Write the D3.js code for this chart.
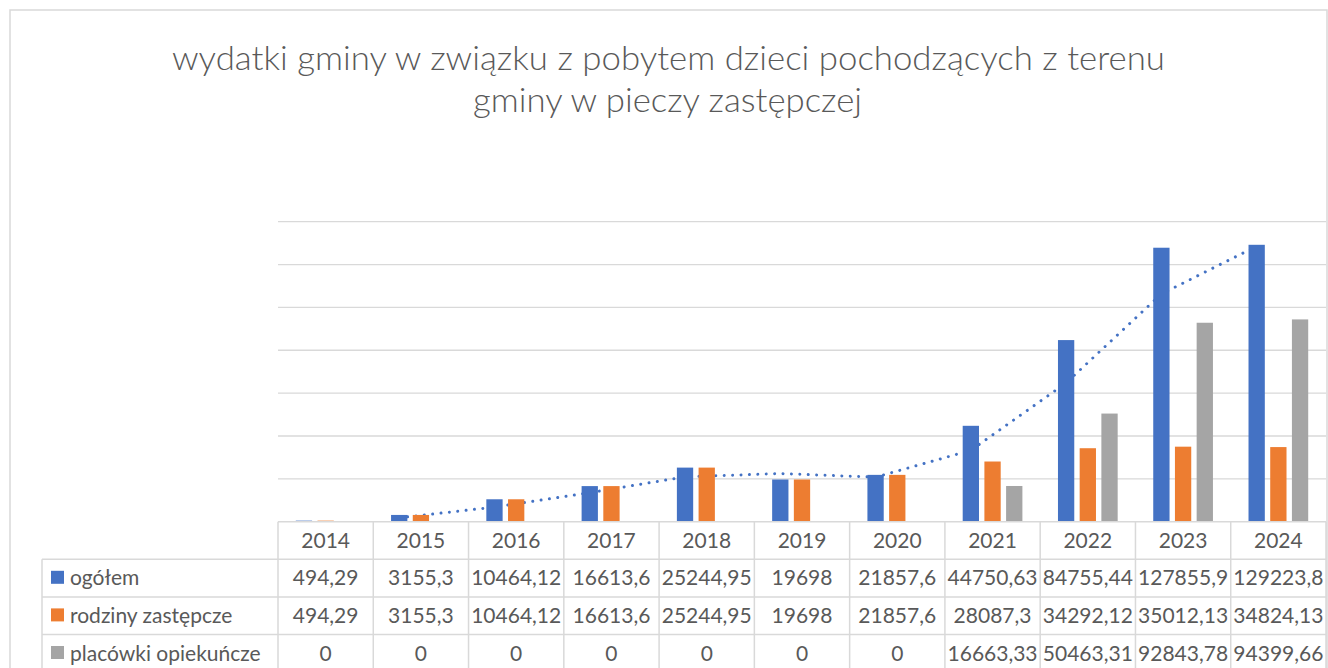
<!DOCTYPE html>
<html>
<head>
  <meta charset="utf-8">
  <title>wydatki gminy - piecza zastępcza</title>
  <style>
    body { margin: 0; background: #fff; }
    text { font-family: Lato, "Open Sans", sans-serif; fill: #595959; }
  </style>
</head>
<body>
  <script src="https://d3js.org/d3.v7.min.js"></script>
  <script>
    var years = [2014, 2015, 2016, 2017, 2018, 2019, 2020, 2021, 2022, 2023, 2024];
    var seriesNames = ['ogółem', 'rodziny zastępcze', 'placówki opiekuńcze'];
    var ogolem = [494.29, 3155.3, 10464.12, 16613.6, 25244.95, 19698, 21857.6, 44750.63, 84755.44, 127855.9, 129223.8];
    var rodziny = [494.29, 3155.3, 10464.12, 16613.6, 25244.95, 19698, 21857.6, 28087.3, 34292.12, 35012.13, 34824.13];
    var placowki = [0, 0, 0, 0, 0, 0, 0, 16663.33, 50463.31, 92843.78, 94399.66];
    var gridTicks = [20000, 40000, 60000, 80000, 100000, 120000, 140000];
    var colors = ['#4472c4', '#ed7d31', '#a5a5a5'];

    var values = [ogolem, rodziny, placowki];
    var W = 1328, H = 668;
    var plotL = 278, plotR = 1326, plotT = 221.7, plotB = 521.7;
    var tableL = 42, rowH = 37.6;
    var fs = 21;

    var svg = d3.select('body').append('svg').attr('width', W).attr('height', H);

    // chart frame
    svg.append('rect').attr('x', 10).attr('y', 10).attr('width', 1317).attr('height', 700)
      .attr('fill', 'none').attr('stroke', '#d9d9d9').attr('stroke-width', 1.5);

    // title
    var title = svg.append('g').attr('class', 'title');
    title.append('text').attr('x', 668.5).attr('y', 70).attr('text-anchor', 'middle')
      .attr('font-size', 34).attr('font-weight', 300)
      .attr('textLength', 993).attr('lengthAdjust', 'spacingAndGlyphs')
      .text('wydatki gminy w związku z pobytem dzieci pochodzących z terenu');
    title.append('text').attr('x', 667.5).attr('y', 112).attr('text-anchor', 'middle')
      .attr('font-size', 34).attr('font-weight', 300)
      .attr('textLength', 389).attr('lengthAdjust', 'spacingAndGlyphs')
      .text('gminy w pieczy zastępczej');

    var x = d3.scaleBand().domain(years).range([plotL, plotR]).padding(0);
    var groupW = 59.7;
    var xs = d3.scaleBand().domain(d3.range(3)).range([-groupW / 2, groupW / 2]).paddingInner(0.249).paddingOuter(0);
    var y = d3.scaleLinear().domain([0, 140000]).range([plotB, plotT]);

    // gridlines
    svg.append('g').selectAll('line').data(gridTicks).enter().append('line')
      .attr('x1', plotL).attr('x2', plotR)
      .attr('y1', function(d) { return y(d); }).attr('y2', function(d) { return y(d); })
      .attr('stroke', '#d9d9d9').attr('stroke-width', 1.3);

    // moving average trendline (period 2) of "ogółem", drawn behind bars
    var trend = [];
    for (var i = 1; i < years.length; i++) {
      trend.push({ year: years[i], v: (ogolem[i - 1] + ogolem[i]) / 2 });
    }
    var line = d3.line()
      .x(function(d) { return x(d.year) + x.bandwidth() / 2 + xs(0) + xs.bandwidth() / 2; })
      .y(function(d) { return y(d.v); });
    svg.append('path').datum(trend).attr('d', line)
      .attr('fill', 'none').attr('stroke', '#4472c4').attr('stroke-width', 3)
      .attr('stroke-linecap', 'round').attr('stroke-dasharray', '0.01 8.4');

    // bars
    values.forEach(function(vals, s) {
      svg.append('g').selectAll('rect').data(vals).enter().append('rect')
        .attr('x', function(d, i) { return x(years[i]) + x.bandwidth() / 2 + xs(s); })
        .attr('width', xs.bandwidth())
        .attr('y', function(d) { return y(d); })
        .attr('height', function(d) { return plotB - y(d); })
        .attr('fill', colors[s]);
    });

    // data table
    var tbl = svg.append('g').attr('class', 'table');
    var lineCol = '#d9d9d9';
    var rowsY = [plotB, plotB + rowH, plotB + 2 * rowH, plotB + 3 * rowH, plotB + 4 * rowH];
    rowsY.forEach(function(ry, k) {
      tbl.append('line').attr('x1', k === 0 ? plotL : tableL).attr('x2', plotR)
        .attr('y1', ry).attr('y2', ry).attr('stroke', lineCol).attr('stroke-width', 1.5);
    });
    tbl.append('line').attr('x1', tableL).attr('x2', tableL).attr('y1', plotB + rowH).attr('y2', H + 10)
      .attr('stroke', lineCol).attr('stroke-width', 1.5);
    var colEdges = years.map(function(d) { return x(d); }).concat([plotR]);
    tbl.selectAll('line.col').data(colEdges).enter().append('line').attr('class', 'col')
      .attr('x1', function(d) { return d; }).attr('x2', function(d) { return d; })
      .attr('y1', plotB).attr('y2', H + 10)
      .attr('stroke', lineCol).attr('stroke-width', 1.5);

    // header row
    tbl.selectAll('text.yr').data(years).enter().append('text').attr('class', 'yr')
      .attr('x', function(d) { return x(d) + x.bandwidth() / 2; })
      .attr('y', plotB + 26).attr('text-anchor', 'middle').attr('font-size', fs)
      .text(function(d) { return d; });

    function fmt(v) { return String(v).replace('.', ','); }

    values.forEach(function(vals, s) {
      var top = plotB + rowH * (s + 1);
      tbl.append('rect').attr('x', 51).attr('y', top + 11.5).attr('width', 13).attr('height', 13)
        .attr('fill', colors[s]);
      tbl.append('text').attr('x', 70).attr('y', top + 26).attr('font-size', fs).text(seriesNames[s]);
      tbl.append('g').selectAll('text').data(vals).enter().append('text')
        .attr('x', function(d, i) { return x(years[i]) + x.bandwidth() / 2; })
        .attr('y', top + 26).attr('text-anchor', 'middle').attr('font-size', fs)
        .text(function(d) { return fmt(d); });
    });
  </script>
</body>
</html>
